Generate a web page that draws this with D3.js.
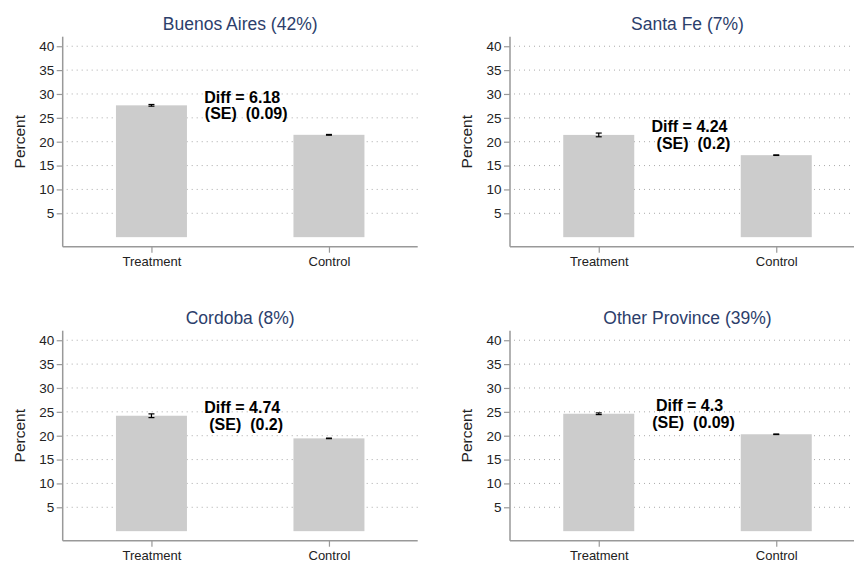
<!DOCTYPE html>
<html>
<head>
<meta charset="utf-8">
<script src="https://cdn.jsdelivr.net/npm/d3@7/dist/d3.min.js"></script>
<style>
  html, body { margin: 0; padding: 0; background: #fff; overflow: hidden; }
  svg { display: block; font-family: "Liberation Sans", Arial, Helvetica, sans-serif; }
</style>
</head>
<body>
<svg id="chart" width="854" height="563"></svg>
<script>
// Share of respondents by province, treatment vs control
const panelTitles = ["Buenos Aires (42%)", "Santa Fe (7%)", "Cordoba (8%)", "Other Province (39%)"];
const groups = ["Treatment", "Control"];
const treatmentMeans = [27.62, 21.42, 24.18, 24.60];
const controlMeans   = [21.44, 17.18, 19.44, 20.30];
const treatmentSE = [0.09, 0.2, 0.2, 0.09];
const controlSE   = [0.04, 0.03, 0.03, 0.03];
const diffLabels = ["6.18", "4.24", "4.74", "4.3"];
const seLabels   = ["0.09", "0.2", "0.2", "0.09"];
const yTicks = [5, 10, 15, 20, 25, 30, 35, 40];
const yDomain = [-2, 42];

const svg = d3.select("#chart");
const plotW = 355, plotH = 210;
const origins = [
  { x: 62.7, y: 36.7 }, { x: 510, y: 36.7 },
  { x: 62.7, y: 330.7 }, { x: 510, y: 330.7 }
];

const axisColor = "#999";
const textColor = "#222";

panelTitles.forEach((title, i) => {
  const o = origins[i];
  const g = svg.append("g").attr("transform", `translate(${o.x},${o.y})`);

  const x = d3.scalePoint().domain(groups).range([0, plotW]).padding(0.5);
  const y = d3.scaleLinear().domain(yDomain).range([plotH, 0]);
  const barW = plotW * 0.2;

  // dotted horizontal gridlines
  g.append("g").selectAll("line").data(yTicks).join("line")
    .attr("x1", 4).attr("x2", plotW)
    .attr("y1", d => y(d)).attr("y2", d => y(d))
    .attr("stroke", "#aaaaaa").attr("stroke-width", 1)
    .attr("stroke-dasharray", "1,4");

  // bars
  const vals = [treatmentMeans[i], controlMeans[i]];
  const ses = [treatmentSE[i], controlSE[i]];
  g.append("g").selectAll("rect").data(groups).join("rect")
    .attr("x", d => x(d) - barW / 2)
    .attr("width", barW)
    .attr("y", (d, k) => y(vals[k]))
    .attr("height", (d, k) => y(0) - y(vals[k]))
    .attr("fill", "#cccccc");

  // 95% confidence intervals
  const capW = 3;
  const eb = g.append("g").attr("stroke", "#000").attr("stroke-width", 1.2);
  groups.forEach((gr, k) => {
    const lo = vals[k] - 1.96 * ses[k], hi = vals[k] + 1.96 * ses[k];
    const cx = x(gr);
    eb.append("line").attr("x1", cx).attr("x2", cx).attr("y1", y(lo)).attr("y2", y(hi));
    eb.append("line").attr("x1", cx - capW).attr("x2", cx + capW).attr("y1", y(lo)).attr("y2", y(lo));
    eb.append("line").attr("x1", cx - capW).attr("x2", cx + capW).attr("y1", y(hi)).attr("y2", y(hi));
  });

  // y axis
  const yAxis = g.append("g").call(
    d3.axisLeft(y).tickValues(yTicks).tickSize(6).tickPadding(2.5).tickSizeOuter(0)
  );
  // x axis
  const xAxis = g.append("g").attr("transform", `translate(0,${plotH})`).call(
    d3.axisBottom(x).tickSize(6).tickPadding(4).tickSizeOuter(0)
  );
  [yAxis, xAxis].forEach(a => {
    a.select(".domain").attr("stroke", axisColor).attr("stroke-width", 1.5);
    a.selectAll(".tick line").attr("stroke", axisColor).attr("stroke-width", 1.2);
    a.selectAll(".tick text").attr("fill", textColor)
      .style("font-family", '"Liberation Sans", Arial, sans-serif');
  });
  yAxis.selectAll(".tick text").style("font-size", "13.5px");
  xAxis.selectAll(".tick text").style("font-size", "13px");
  xAxis.select(".domain").attr("d", `M0,0H${plotW}`);
  yAxis.select(".domain").attr("d", `M0,${plotH}V0`);

  // y axis title
  g.append("text")
    .attr("transform", `translate(-38,${plotH / 2}) rotate(-90)`)
    .attr("text-anchor", "middle")
    .attr("fill", textColor)
    .style("font-size", "15.5px")
    .text("Percent");

  // panel title
  g.append("text")
    .attr("x", plotW / 2).attr("y", -6.5)
    .attr("text-anchor", "middle")
    .attr("fill", "#2c3e6b")
    .style("font-size", "17.5px")
    .text(title);

  // difference annotation, anchored just above the treatment mean
  const mid = (x(groups[0]) + x(groups[1])) / 2;
  const by = y(treatmentMeans[i]) - 2.5;
  const ann = g.append("text")
    .attr("text-anchor", "middle")
    .attr("fill", "#000")
    .style("font-size", "16px")
    .style("font-weight", "bold")
    .style("white-space", "pre");
  ann.append("tspan").attr("x", mid + 2).attr("y", by).text(`Diff = ${diffLabels[i]}`);
  ann.append("tspan").attr("x", mid + 6).attr("y", by + 16.5).text(`(SE)  (${seLabels[i]})`);
});
</script>
</body>
</html>
